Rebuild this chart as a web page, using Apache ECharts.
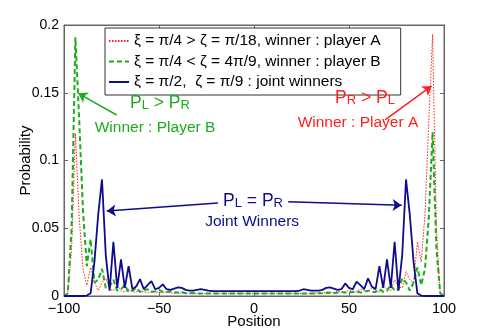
<!DOCTYPE html>
<html>
<head>
<meta charset="utf-8">
<script src="https://cdn.jsdelivr.net/npm/echarts@6/dist/echarts.min.js"></script>
<style>
html,body{margin:0;padding:0;background:#fff;}
#main{width:491px;height:334px;}
</style>
</head>
<body>
<div id="main"></div>
<script>
// Positions (even sites of the walk)
var positions = [-100,-98,-96,-94,-92,-90,-88,-86,-84,-82,-80,-78,-76,-74,-72,-70,-68,-66,-64,-62,-60,-58,-56,-54,-52,-50,-48,-46,-44,-42,-40,-38,-36,-34,-32,-30,-28,-26,-24,-22,-20,-18,-16,-14,-12,-10,-8,-6,-4,-2,0,2,4,6,8,10,12,14,16,18,20,22,24,26,28,30,32,34,36,38,40,42,44,46,48,50,52,54,56,58,60,62,64,66,68,70,72,74,76,78,80,82,84,86,88,90,92,94,96,98,100];

// ξ = π/4 > ζ = π/18 (red dotted)
var probA = [0,0.002,0.035,0.12,0.058,0.02,0.008,0.021,0.010,0.004,0.010,0.013,0.005,0.004,0.008,0.004,0.003,0.005,0.003,0.003,0.004,0.003,0.0025,0.0035,0.003,0.0025,0.0025,0.003,0.0025,0.002,0.0025,0.0022,0.002,0.002,0.0018,
0.0018,0.0018,0.0018,0.0018,0.0018,0.0018,0.0018,0.0018,0.0018,0.0018,0.0018,0.0018,0.0018,0.0018,0.0018,0.0018,0.0018,0.0018,0.0018,0.0018,0.0018,0.0018,0.0018,0.0018,0.0018,0.0018,0.0018,0.0018,0.0018,0.0018,0.0018,
0.0022,0.002,0.002,0.003,0.0025,0.0025,0.0035,0.003,0.003,0.0045,0.0035,0.003,0.005,0.004,0.003,0.006,0.004,0.003,0.008,0.005,0.004,0.012,0.007,0.006,0.018,0.012,0.010,0.040,0.025,0.060,0.13,0.193,0.05,0.002,0];

// ξ = π/4 < ζ = 4π/9 (green dashed)
var probB = [0,0.002,0.05,0.191,0.13,0.063,0.022,0.042,0.010,0.012,0.020,0.006,0.007,0.012,0.004,0.005,0.008,0.003,0.004,0.006,0.003,0.004,0.005,0.003,0.0035,0.0045,0.003,0.003,0.0035,0.0025,0.0025,0.003,0.002,0.002,0.0022,
0.0018,0.0018,0.0018,0.0018,0.0018,0.0018,0.0018,0.0018,0.0018,0.0018,0.0018,0.0018,0.0018,0.0018,0.0018,0.0018,0.0018,0.0018,0.0018,0.0018,0.0018,0.0018,0.0018,0.0018,0.0018,0.0018,0.0018,0.0018,0.0018,0.0018,0.0018,
0.0018,0.002,0.002,0.0022,0.0025,0.002,0.0025,0.003,0.0025,0.0025,0.003,0.0035,0.0025,0.003,0.004,0.003,0.003,0.005,0.003,0.004,0.008,0.004,0.005,0.013,0.010,0.004,0.010,0.021,0.008,0.02,0.058,0.121,0.035,0.002,0];

// ξ = π/2, ζ = π/9 (blue solid)
var probJ = [0,0,0,0,0,0,0.0003,0.002,0.025,0.06,0.086,0.03,0.004,0.040,0.006,0.027,0.006,0.022,0.005,0.007,0.0125,0.005,0.008,0.011,0.005,0.006,0.0086,0.005,0.0045,0.0055,0.0064,0.006,0.0045,0.004,0.004,0.0045,0.005,0.0045,0.004,
0.0036,0.0036,0.0036,0.0036,0.0036,0.0036,0.0036,0.0036,0.0036,0.0036,0.0036,0.0036,0.0036,0.0036,0.0036,0.0036,0.0036,0.0036,0.0036,0.0036,0.0036,0.0036,0.0036,
0.004,0.005,0.0045,0.004,0.0039,0.004,0.0045,0.006,0.0064,0.0055,0.0045,0.005,0.0093,0.006,0.005,0.0106,0.008,0.005,0.013,0.007,0.005,0.022,0.006,0.027,0.006,0.040,0.004,0.03,0.086,0.06,0.025,0.002,0.0003,0,0,0,0,0,0];

var seriesNames = [
  'ξ = π/4 > ζ = π/18, winner : player A',
  'ξ = π/4 < ζ = 4π/9, winner : player B',
  'ξ = π/2,  ζ = π/9 : joint winners'
];
var xTicks = [-100, -50, 0, 50, 100];
var yTicks = [0, 0.05, 0.1, 0.15, 0.2];

var RED = '#ff2020', GREEN = '#1faa1f', BLUE = '#0c0c8c';
var FONT = '"Liberation Sans", Arial, sans-serif';
var AXC = '#666';

function pairs(vals){ return positions.map(function(p,i){ return [p, vals[i]]; }); }
function fmtX(v){ return v < 0 ? '\u2212' + Math.abs(v) : String(v); }

function textPoint(x, y, text, color){
  return {
    coord: [x, y], symbol: 'circle', symbolSize: 1,
    itemStyle: {color: 'rgba(0,0,0,0)'},
    label: {
      show: true, position: 'inside', formatter: text, color: color,
      fontFamily: FONT, fontSize: 15.5,
      rich: {
        m: {fontSize: 17.5, lineHeight: 17, verticalAlign: 'top', color: color, fontFamily: FONT},
        s: {fontSize: 13, lineHeight: 13, verticalAlign: 'bottom', padding: [8,0,0,0], color: color, fontFamily: FONT}
      }
    }
  };
}
function arrow(x1,y1,x2,y2){
  return [{coord:[x1,y1], symbol:'none'}, {coord:[x2,y2], symbol:'arrow'}];
}
function axisBase(){
  return {
    axisLine: {show: true, onZero: false, lineStyle: {color: AXC}},
    axisTick: {inside: true, length: 4, lineStyle: {color: AXC}},
    splitLine: {show: false}
  };
}

var chart = echarts.init(document.getElementById('main'), null, {renderer: 'canvas'});
chart.setOption({
  animation: false,
  backgroundColor: '#fff',
  grid: {left: 64, right: 47, top: 25, bottom: 38, show: true, borderColor: AXC, borderWidth: 1, backgroundColor: '#fff',
         containLabel: false, outerBoundsMode: 'none'},
  legend: {
    orient: 'vertical', left: 105, top: 28,
    backgroundColor: '#fff', borderColor: '#333', borderWidth: 1, borderRadius: 0,
    padding: [5, 20, 5, 3], itemGap: 4.5, itemWidth: 20, itemHeight: 16, itemTextGap: 2,
    itemStyle: {opacity: 0, borderWidth: 0},
    textStyle: {fontFamily: FONT, fontSize: 15.5, color: '#000'},
    data: seriesNames
  },
  xAxis: [Object.assign(axisBase(), {
    type: 'value', min: -100, max: 100, interval: 50,
    name: 'Position', nameLocation: 'middle', nameGap: 18, nameMoveOverlap: false,
    nameTextStyle: {fontFamily: FONT, fontSize: 15, color: '#000'},
    axisLabel: {formatter: fmtX, fontFamily: FONT, fontSize: 14.5, color: '#000', margin: 5}
  }), Object.assign(axisBase(), {
    type: 'value', position: 'top', min: -100, max: 100, interval: 50,
    axisLabel: {show: false}
  })],
  yAxis: [Object.assign(axisBase(), {
    type: 'value', min: 0, max: 0.2, interval: 0.05,
    name: 'Probability', nameLocation: 'middle', nameGap: 31, nameRotate: 90, nameMoveOverlap: false,
    nameTextStyle: {fontFamily: FONT, fontSize: 15, color: '#000'},
    axisLabel: {fontFamily: FONT, fontSize: 14, color: '#000', margin: 5}
  }), Object.assign(axisBase(), {
    type: 'value', position: 'right', min: 0, max: 0.2, interval: 0.05,
    axisLabel: {show: false}
  })],
  series: [{
    name: seriesNames[0], type: 'line', data: pairs(probA), showSymbol: false, symbol: 'none',
    lineStyle: {color: RED, width: 1, type: [1.5, 1.5]}, itemStyle: {color: RED}, z: 3,
    markLine: {silent: true, symbolSize: 9, label: {show: false}, lineStyle: {color: RED, width: 1.5, type: 'solid'},
      data: [arrow(69, 0.130, 93.5, 0.155)]},
    markPoint: {silent: true, data: [
      textPoint(58.4, 0.146, '{m|P}{s|R}{m| > P}{s|L}', RED),
      textPoint(54.7, 0.128, 'Winner : Player A', RED)
    ]}
  },{
    name: seriesNames[1], type: 'line', data: pairs(probB), showSymbol: false, symbol: 'none',
    lineStyle: {color: GREEN, width: 2, type: [5, 3]}, itemStyle: {color: GREEN}, z: 4,
    markLine: {silent: true, symbolSize: 9, label: {show: false}, lineStyle: {color: GREEN, width: 1.5, type: 'solid'},
      data: [arrow(-72.3, 0.1336, -92.5, 0.1496)]},
    markPoint: {silent: true, data: [
      textPoint(-49.5, 0.1424, '{m|P}{s|L}{m| > P}{s|R}', GREEN),
      textPoint(-52.1, 0.124, 'Winner : Player B', GREEN)
    ]}
  },{
    name: seriesNames[2], type: 'line', data: pairs(probJ), showSymbol: false, symbol: 'none',
    lineStyle: {color: BLUE, width: 1.8, type: 'solid'}, itemStyle: {color: BLUE}, z: 5,
    markLine: {silent: true, symbolSize: 9, label: {show: false}, lineStyle: {color: BLUE, width: 1.5, type: 'solid'},
      data: [arrow(-19, 0.0686, -77.5, 0.0627), arrow(18, 0.0696, 77.7, 0.067)]},
    markPoint: {silent: true, data: [
      textPoint(-0.5, 0.070, '{m|P}{s|L}{m| = P}{s|R}', BLUE),
      textPoint(-1, 0.0546, 'Joint Winners', BLUE)
    ]}
  }]
});
</script>
</body>
</html>
